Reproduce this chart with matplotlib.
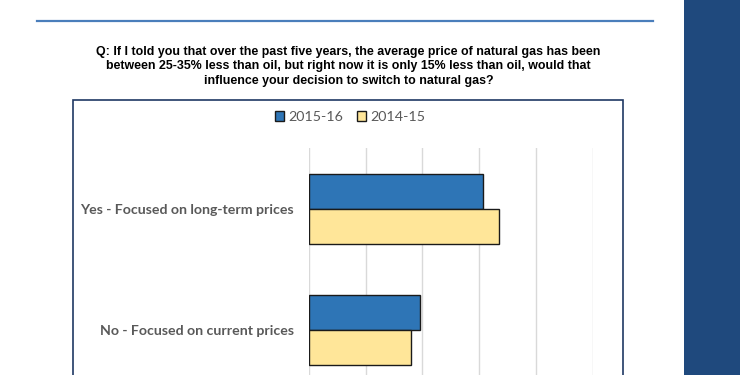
import matplotlib
matplotlib.use('Agg')
import matplotlib.pyplot as plt
from matplotlib.patches import Rectangle, Patch
from matplotlib.lines import Line2D

# survey answers (percent of respondents)
categories = ['Yes - Focused on long-term prices', 'No - Focused on current prices']
pct_2015_16 = [30.6, 19.6]
pct_2014_15 = [33.5, 17.9]
series_names = ['2015-16', '2014-15']
question = ('Q: If I told you that over the past five years, the average price of natural gas has been\n'
            'between 25-35% less than oil, but right now it is only 15% less than oil, would that\n'
            'influence your decision to switch to natural gas?')

W, H = 740, 375
fig = plt.figure(figsize=(W / 100, H / 100), dpi=100)
fig.patch.set_facecolor('white')

def fx(px):
    return px / W

def fy(py):
    return 1 - py / H

# slide decorations: top rule, right side panel, chart frame
fig.add_artist(Line2D([fx(37), fx(653)], [fy(21), fy(21)], color='#4A7EBB', lw=1.6))
fig.add_artist(Rectangle((fx(684), 0), fx(W - 684), 1, color='#1F497D', lw=0))
fig.add_artist(Rectangle((fx(73), fy(400)), fx(623 - 73), (400 - 100) / H,
                         facecolor='none', edgecolor='#1F3864', lw=1.2))

fig.text(fx(348.5), fy(66.5), question, ha='center', va='center', fontsize=8.9,
         fontweight='bold', linespacing=1.3,
         family=['Liberation Sans Narrow', 'Liberation Sans', 'DejaVu Sans'])

# axes: gridline 0 at x=309, 50 at x=592.7; top at y=148, runs off the bottom
ax = fig.add_axes([fx(309), 0, fx(592.7 - 309), (H - 148) / H])
ax.set_facecolor('none')
pos = list(range(len(categories)))
h = 0.293
ax.barh([p - h / 2 for p in pos], pct_2015_16, height=h, color='#2E75B6',
        edgecolor='#1a1a1a', lw=1.0, zorder=3)
ax.barh([p + h / 2 for p in pos], pct_2014_15, height=h, color='#FFE699',
        edgecolor='#1a1a1a', lw=1.0, zorder=3)
ax.set_xlim(0, 50)
ax.set_ylim(1.372, -0.504)
ax.set_xticks([0, 10, 20, 30, 40, 50])
ax.xaxis.grid(True, color='#D9D9D9', lw=1.0, zorder=0)
ax.tick_params(axis='x', length=0, labelbottom=False)
ax.set_yticks(pos)
ax.set_yticklabels(categories, fontsize=10.2, fontweight='bold', color='#595959',
                   family=['Lato', 'DejaVu Sans'])
ax.tick_params(axis='y', length=0, pad=11)
for s in ax.spines.values():
    s.set_visible(False)

handles = [Patch(facecolor='#2E75B6', edgecolor='#1a1a1a', lw=1.0),
           Patch(facecolor='#FFE699', edgecolor='#1a1a1a', lw=1.0)]
leg = fig.legend(handles, series_names, loc='center', bbox_to_anchor=(fx(350), fy(117)),
                 ncol=2, frameon=False, handlelength=0.65, handleheight=0.65,
                 handletextpad=0.25, columnspacing=1.0,
                 prop={'family': ['Lato', 'DejaVu Sans'], 'size': 10.3})
for t in leg.get_texts():
    t.set_color('#595959')

fig.savefig('out.png', dpi=100)
